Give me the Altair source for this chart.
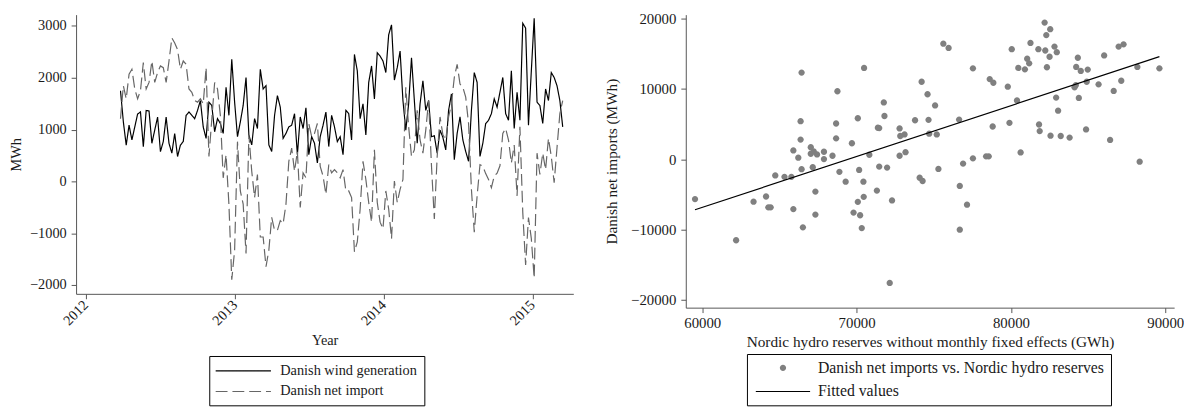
import altair as alt
import pandas as pd

# ---------------- data: left panel (weekly series, MWh) ----------------
first_week = "2012-03-26"
series_names = ["Danish wind generation", "Danish net import"]
year_ticks = [2012, 2013, 2014, 2015]
left_y_ticks = [-2000, -1000, 0, 1000, 2000, 3000]

wind_generation = [
    1750, 1150, 700, 1085, 800, 1050, 1300, 1340, 670, 1370, 1360, 735, 990, 1240, 575, 770,
    1240, 735, 545, 925, 480, 700, 770, 1275, 1340, 1275, 1210, 1370, 1560, 1050, 830,
    1530, 1466, 958, 1212, 1117, 926, 1815, 1275, 2355, 1530, 863, 1148, 1466, 2006, 895, 704,
    1212, 1021, 2165, 1783, 1847, 704, 577, 1275, 1656, 1434, 831, 926, 1053, 1085, 1307, 514, 1244,
    1021, 1422, 514, 863, 736, 355, 863, 1085, 1339, 672, 1275, 1053, 768, 863, 514, 1371,
    1307, 799, 2450, 2133, 1212, 1498, 895, 1910, 2228, 1593, 2482, 2418, 2323, 2101, 2831,
    3022, 1956, 2196, 2514, 1561, 990, 1498, 2387, 1561, 736, 1498, 1942, 1371, 1561, 863, 880,
    545, 990, 850, 609, 1371, 1688, 418, 926, 1244, 799, 577, 387, 1371, 2101, 1910, 482,
    736, 1117, 1180, 1307, 1593, 1434, 1720, 2006, 1307, 1180, 2133, 1021, 1720, 1180, 3053,
    2958, 1085, 2133, 3149, 1530, 1466, 1117, 1784, 1561, 2101, 2006, 1847, 1561, 1053,
]
net_import = [
    1210, 1847, 1593, 2070, 2165, 1784, 1593, 1752, 2292, 1784, 1911, 2324, 1911, 2101, 2228, 2196,
    1911, 2324, 2768, 2673, 2546, 2165, 2324, 2260, 1784, 1720, 1561, 1530, 1593, 1498, 2196,
    482, 1200, 1910, 1783, 1275, 69, 514, -439, -1900, -1328, 767, -185, -439, -1392, 895, 196,
    -312, 133, -1074, -1074, -1646, -1328, -693, -947, -947, -757, -820, -439, 387, 641, 196, 577, -503,
    164, 69, 1117, 863, 926, 1117, 291, 101, -249, 323, 164, 228, 164, 69, 228, -185,
    -185, -312, -1360, -1169, -534, 386, 37, -407, -788, 609, -407, -788, -915, -185, -534,
    -1106, 5, -407, -153, 37, 1815, 1053, 482, 609, 1371, 799, 545, 990, 1561, 300, -725,
    482, 1244, 900, 799, 1244, 1498, 2006, 2260, 1879, 1815, 1625, 1117, -153, -979, -280, 323,
    291, 150, 37, -122, 101, 160, 300, 926, 1021, 799, 355, 700, -280, 1053, -598,
    -1614, -700, -1106, -1868, 545, 133, 545, 228, 831, 482, -26, 650, 1307, 1561,
]

# ---------------- data: right panel (scatter) ----------------
scatter_names = ["Danish net imports vs. Nordic hydro reserves", "Fitted values"]
right_x_ticks = [60000, 70000, 80000, 90000]
right_y_ticks = [-20000, -10000, 0, 10000, 20000]

hydro_reserves = [
    59531, 62195, 63324, 64134, 64283, 64432, 64731, 65328, 65775, 65903, 65903, 66223, 66372,
    66372, 66436, 66436, 66521, 67032, 67032, 67160, 67224, 67331, 67331, 67437, 67885, 67885,
    68439, 68673, 68673, 68758, 68886, 69291, 69696, 69803, 70080, 70080, 70165, 70229, 70335,
    70442, 70463, 70485, 70825, 71315, 71380, 71465, 71465, 71763, 71805, 71976, 72147, 72296,
    72786, 72786, 72829, 73106, 73170, 73788, 74086, 74278, 74214, 74597, 74661, 74704, 75087,
    75194, 75301, 75620,
    75961, 76643, 76686, 76686, 76899, 77155, 77538, 77538, 78391, 78561, 78625, 78860, 78817,
    79797, 79904, 80053, 80394, 80479, 80628, 80905, 81054, 81182, 81267, 81779, 81821, 81864,
    82183, 82226, 82290, 82332, 82503, 82545, 82566, 82822, 82929, 82971, 83056, 83227, 83802,
    84122, 84207, 84228, 84335, 84399, 84527, 84868, 84911, 84975, 85678, 86040, 86424, 86658,
    86978, 87148, 87297, 88192, 88341, 89620,
]
danish_net_imports = [
    -5670, -11510, -6040, -5300, -6840, -6840, -2310, -2500, -2500, 1240, -7090, 210, 5390,
    2780, 12300, -1420, -9680, 1700, 770, -1140, 1100, -4600, -7860, 680, 1050, 20,
    490, 5060, 2960, 9640, -1800, -3200, 2260, -7580, 5810, -6060, -1520, -7960, -9780,
    -3200, -5340, 12950, 630, -4460, 4460, 4410, -1050, 8050, 6130, -1190, -17570, -5860,
    4360, 490, 3290, 3520, 1000, 5530, -2640, -3100, 10990, 9220, 5580, 3620, 7630,
    3520, -1380, 16400,
    15800, 5620, -3800, -10010, -630, -6460, 12900, 120, 400, 400, 11370, 10850, 4640,
    10290, 5160, 15620, 8330, 12950, 960, 12760, 14260, 13610, 16500, 15620, 4920, 3990,
    19390, 15430, 17620, 13050, 14540, 18460, 3340, 15980, 8750, 15190, 6880, 3290, 3060,
    10200, 10520, 13090, 14400, 8700, 12530, 4220, 10990, 12720, 10620, 14730, 2730, 9690,
    15990, 11130, 16310, 13090, -350, 12900,
]

# ---------------- tables ----------------
n = len(wind_generation)
dates = pd.date_range(first_week, periods=n, freq="7D").strftime("%Y-%m-%d").tolist()
ts = pd.DataFrame({
    "date": dates + dates,
    "value": wind_generation + net_import,
    "series": [series_names[0]] * n + [series_names[1]] * n,
})
sc = pd.DataFrame({
    "hydro": hydro_reserves,
    "imports": danish_net_imports,
    "kind": [scatter_names[0]] * len(hydro_reserves),
})

FONT = "Liberation Serif"
TXT = "#1a1a1a"
LEFT_FS = 14.5
RIGHT_FS = 15.5

# legend key shapes (unit = 7 px at symbol size 196)
LINE_KEY = "M-4,0H4"
CIRCLE_KEY = "M0.457,0A0.457,0.457,0,1,1,-0.457,0A0.457,0.457,0,1,1,0.457,0Z"
BAR_KEY = "M-3.93,-0.086H3.93V0.086H-3.93Z"

# ---------------- left panel ----------------
left_legend = alt.Legend(
    orient="none", legendX=135, legendY=346, direction="vertical",
    strokeColor="#000000", fillColor="#ffffff", cornerRadius=0, padding=7,
    symbolType=LINE_KEY, symbolSize=196, symbolStrokeWidth=1.2, symbolOffset=19.5,
    labelFont=FONT, labelFontSize=LEFT_FS, labelColor=TXT, labelOffset=29.5, labelLimit=400,
    rowPadding=6,
)

left = alt.Chart(ts).mark_line(strokeWidth=1.2).encode(
    x=alt.X(
        "date:T", title="Year",
        scale=alt.Scale(type="utc", domain=[
            alt.DateTime(year=2011, month=12, date=8, utc=True),
            alt.DateTime(year=2015, month=4, date=11, utc=True)]),
        axis=alt.Axis(
            values=[alt.DateTime(year=y, month=1, date=1, utc=True) for y in year_ticks],
            format="%Y", formatType="utc", labelAngle=-45, labelAlign="right",
            labelBaseline="middle", labelPadding=4, titlePadding=6, labelOverlap=False,
            labelFontSize=LEFT_FS, titleFontSize=LEFT_FS),
    ),
    y=alt.Y(
        "value:Q", title="MWh",
        scale=alt.Scale(domain=[-2171, 3219], nice=False, zero=False),
        axis=alt.Axis(values=left_y_ticks, format="d", labelPadding=5, titlePadding=6,
                      labelOverlap=False, labelFontSize=LEFT_FS, titleFontSize=LEFT_FS),
    ),
    color=alt.Color("series:N", title=None,
                    scale=alt.Scale(domain=series_names, range=["#000000", "#666666"]),
                    legend=left_legend),
    strokeDash=alt.StrokeDash("series:N", title=None,
                              scale=alt.Scale(domain=series_names, range=[[1, 0], [12, 5]]),
                              legend=left_legend),
).properties(width=504, height=283)

# ---------------- right panel ----------------
right_legend = alt.Legend(
    orient="none", legendX=62, legendY=344, direction="vertical",
    strokeColor="#000000", fillColor="#ffffff", cornerRadius=0, padding=6,
    symbolSize=196, symbolStrokeWidth=0, symbolOffset=22.5,
    labelFont=FONT, labelFontSize=16, labelColor=TXT, labelOffset=27.5, labelLimit=500,
    rowPadding=8,
)

xs = alt.Scale(domain=[58933, 90574], nice=False, zero=False)
ys = alt.Scale(domain=[-21079, 20519], nice=False, zero=False)

points = alt.Chart(sc).mark_point(filled=True, opacity=1, size=196).encode(
    x=alt.X("hydro:Q", title="Nordic hydro reserves without monthly fixed effects (GWh)",
            scale=xs,
            axis=alt.Axis(values=right_x_ticks, format="d", labelPadding=3, titlePadding=4,
                          labelOverlap=False, labelFontSize=15, titleFontSize=RIGHT_FS)),
    y=alt.Y("imports:Q", title="Danish net imports (MWh)", scale=ys,
            axis=alt.Axis(values=right_y_ticks, format="d", labelPadding=5, titlePadding=11,
                          labelOverlap=False, labelFontSize=15, titleFontSize=RIGHT_FS)),
    color=alt.Color("kind:N", title=None,
                    scale=alt.Scale(domain=scatter_names, range=["#808080", "#000000"]),
                    legend=right_legend),
    shape=alt.Shape("kind:N", title=None,
                    scale=alt.Scale(domain=scatter_names, range=[CIRCLE_KEY, BAR_KEY]),
                    legend=right_legend),
)

fit = alt.Chart(sc).transform_regression("hydro", "imports").mark_line(
    color="#000000", strokeWidth=1.2
).encode(x=alt.X("hydro:Q", scale=xs), y=alt.Y("imports:Q", scale=ys))

right = alt.layer(points, fit).properties(width=495, height=297)

chart = alt.hconcat(left, right, spacing=32).resolve_scale(
    color="independent", shape="independent", strokeDash="independent"
).resolve_legend(
    color="independent", shape="independent", strokeDash="independent"
).properties(padding=0).configure_view(
    stroke=None
).configure_axis(
    domainColor="#555555", tickColor="#555555", domainWidth=1, tickWidth=1, tickSize=5,
    labelFont=FONT, labelColor=TXT,
    titleFont=FONT, titleFontWeight="normal", titleColor=TXT,
    grid=False,
)

chart.save("out.html", embed_options={"renderer": "svg", "actions": False})
